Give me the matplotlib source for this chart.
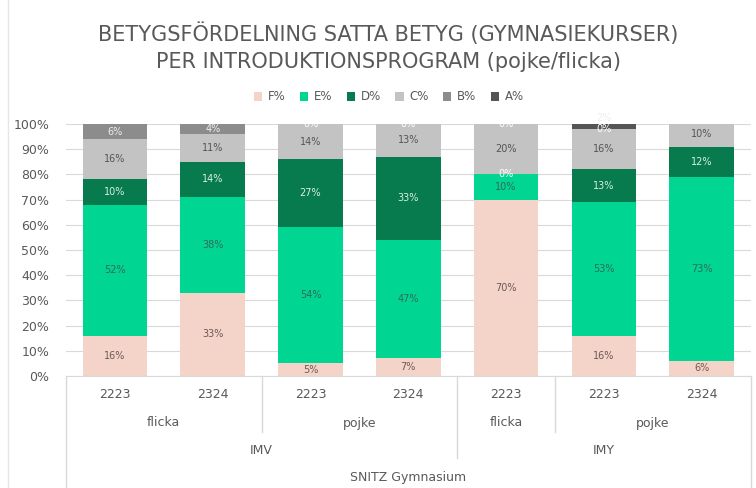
import matplotlib
matplotlib.use("Agg")
import matplotlib.pyplot as plt
import matplotlib.transforms as mtransforms
from matplotlib.patches import Patch
from matplotlib.lines import Line2D
import numpy as np

plt.rcParams['font.family'] = ['DejaVu Sans']

years = ["2223", "2324", "2223", "2324", "2223", "2223", "2324"]
genders = ["flicka", "pojke", "flicka", "pojke"]
gender_spans = [(0, 1), (2, 3), (4, 4), (5, 6)]
programs = ["IMV", "IMY"]
program_spans = [(0, 3), (4, 6)]
school = "SNITZ Gymnasium"

series_names = ["F%", "E%", "D%", "C%", "B%", "A%"]
F = [16, 33, 5, 7, 70, 16, 6]
E = [52, 38, 54, 47, 10, 53, 73]
D = [10, 14, 27, 33, 0, 13, 12]
C = [16, 11, 14, 13, 20, 16, 10]
B = [6, 4, 0, 0, 0, 0, 0]
A = [0, 0, 0, 0, 0, 2, 0]

colors = ["#F4D3C8", "#00D692", "#077A4E", "#C3C3C3", "#8C8C8C", "#555555"]
label_colors = ["#6b5a55", "#2f6b55", "#d8efe4", "#555555", "#eeeeee", "#eeeeee"]

W, H = 756, 488
fig = plt.figure(figsize=(W / 100, H / 100), dpi=100)
left, right, top, bottom = 66, 750.6, 124, 376
ax = fig.add_axes([left / W, 1 - bottom / H, (right - left) / W, (bottom - top) / H])

x = np.arange(len(years))
series = [F, E, D, C, B, A]
base = np.zeros(len(years))
labels = [[] for _ in x]
for vals, col, lcol in zip(series, colors, label_colors):
    v = np.array(vals, dtype=float)
    ax.bar(x, v / 100, bottom=base / 100, width=0.66, color=col, zorder=2)
    for i, (vi, bi) in enumerate(zip(v, base)):
        labels[i].append([(bi + vi / 2) / 100, f"{int(vi)}%",
                          lcol if vi > 0 else "#ffffff"])
    base = base + v

gap = 0.043
for i, labs in enumerate(labels):
    for k in range(1, len(labs)):
        if labs[k][0] < labs[k - 1][0] + gap:
            labs[k][0] = labs[k - 1][0] + gap
    for yy, txt, c in labs:
        ax.text(x[i], yy, txt, ha="center", va="center", fontsize=7,
                color=c, zorder=3, clip_on=False)

ax.set_ylim(0, 1)
ax.set_xlim(-0.5, len(years) - 0.5)
ax.set_yticks(np.arange(0, 1.01, 0.1))
ax.set_yticklabels([f"{int(round(t * 100))}%" for t in np.arange(0, 1.01, 0.1)],
                   fontsize=9, color="#595959")
ax.tick_params(axis="y", length=0, pad=12)
ax.set_xticks([])
ax.grid(axis="y", color="#D9D9D9", linewidth=0.8, zorder=0)
for s in ["top", "right", "left"]:
    ax.spines[s].set_visible(False)
ax.spines["bottom"].set_color("#D9D9D9")

# multi-level category axis
tr = mtransforms.blended_transform_factory(ax.transData, fig.transFigure)
def fy(py):
    return 1 - py / H

lc = "#D9D9D9"
for xx, y0, y1 in [(-0.5, 376, 488), (len(years) - 0.5, 376, 488),
                   (1.5, 376, 432), (4.5, 376, 432), (3.5, 376, 458)]:
    fig.add_artist(Line2D([xx, xx], [fy(y0), fy(y1)], transform=tr, color=lc, lw=1))

for xi, yr in zip(x, years):
    ax.text(xi, fy(394), yr, transform=tr, ha="center", va="center", fontsize=9, color="#595959")
for g, (a, b) in zip(genders, gender_spans):
    ax.text((a + b) / 2, fy(423), g, transform=tr, ha="center", va="center", fontsize=9, color="#595959")
for p, (a, b) in zip(programs, program_spans):
    ax.text((a + b) / 2, fy(450), p, transform=tr, ha="center", va="center", fontsize=9, color="#595959")
ax.text((len(years) - 1) / 2, fy(478), school, transform=tr, ha="center", va="center", fontsize=9, color="#595959")

# title
fig.text(388.5 / W, fy(34), "BETYGSFÖRDELNING SATTA BETYG (GYMNASIEKURSER)",
         ha="center", va="center", fontsize=15, color="#595959")
fig.text(388.5 / W, fy(62), "PER INTRODUKTIONSPROGRAM (pojke/flicka)",
         ha="center", va="center", fontsize=15, color="#595959")

handles = [Patch(facecolor=c, edgecolor="none") for c in colors]
fig.legend(handles, series_names, loc="center", bbox_to_anchor=(389 / W, fy(97)),
           ncol=6, frameon=False, fontsize=8.5, handlelength=0.7, handleheight=0.7,
           handletextpad=0.5, columnspacing=1.2, labelcolor="#595959")

fig.add_artist(Line2D([8 / W, 8 / W], [0, 1], transform=fig.transFigure, color="#E6E6E6", lw=1))

fig.savefig("out.png", dpi=100)
